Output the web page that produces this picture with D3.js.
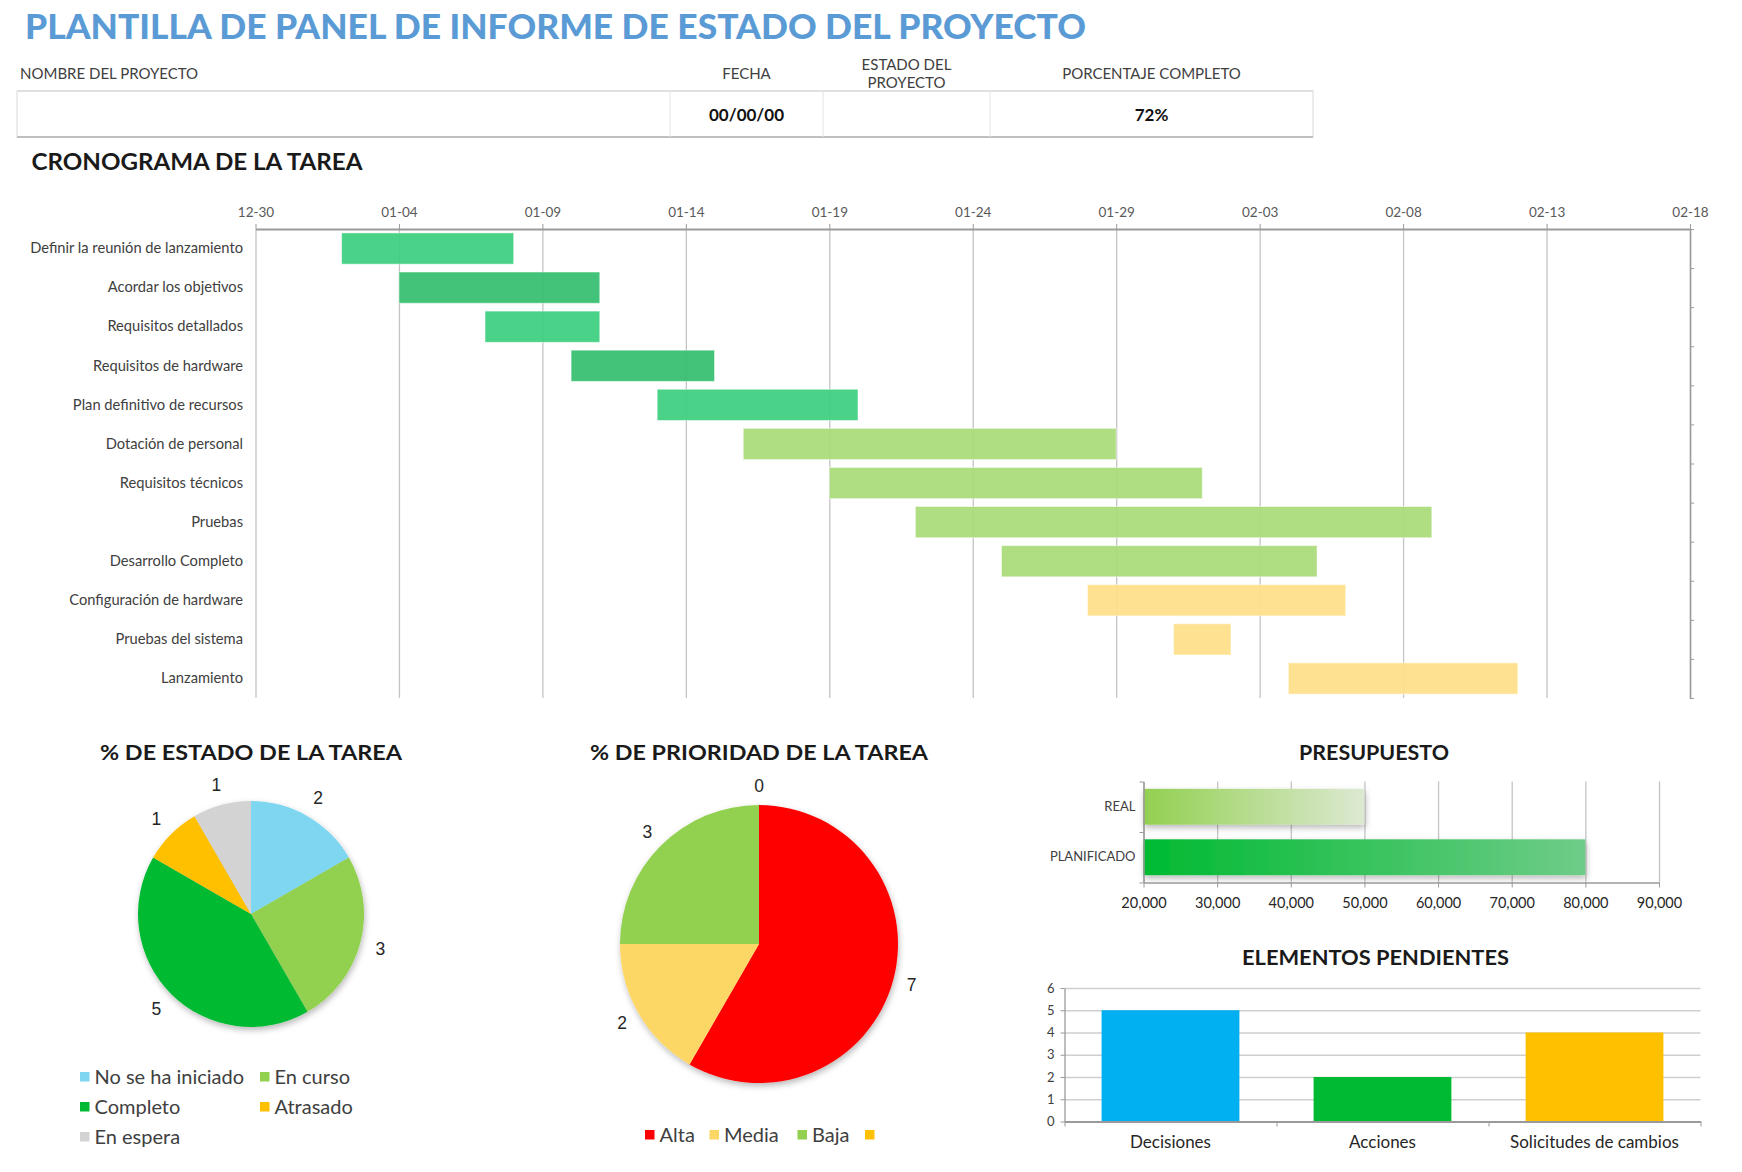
<!DOCTYPE html>
<html><head><meta charset="utf-8">
<script src="https://cdn.jsdelivr.net/npm/d3@7"></script>
<style>
body{margin:0;background:#fff;}
svg{display:block;font-family:Lato,"Open Sans",sans-serif;}
</style></head><body>
<svg id="c" width="1742" height="1172"></svg>
<script>
// ---------- DATA ----------
const tasks = ["Definir la reunión de lanzamiento","Acordar los objetivos","Requisitos detallados","Requisitos de hardware","Plan definitivo de recursos","Dotación de personal","Requisitos técnicos","Pruebas","Desarrollo Completo","Configuración de hardware","Pruebas del sistema","Lanzamiento"];
const taskStart = ["2023-01-02","2023-01-04","2023-01-07","2023-01-10","2023-01-13","2023-01-16","2023-01-19","2023-01-22","2023-01-25","2023-01-28","2023-01-31","2023-02-04"];
const taskEnd   = ["2023-01-08","2023-01-11","2023-01-11","2023-01-15","2023-01-20","2023-01-29","2023-02-01","2023-02-09","2023-02-05","2023-02-06","2023-02-02","2023-02-12"];
const taskPhase = ["Completo","Completo","Completo","Completo","Completo","En curso","En curso","En curso","En curso","Pendiente","Pendiente","Pendiente"];
const dateTicks = ["2022-12-30","2023-01-04","2023-01-09","2023-01-14","2023-01-19","2023-01-24","2023-01-29","2023-02-03","2023-02-08","2023-02-13","2023-02-18"];

const headerLabels = ["NOMBRE DEL PROYECTO","FECHA","ESTADO DEL PROYECTO","PORCENTAJE COMPLETO"];
const headerValues = ["","00/00/00","","72%"];

const statusLabels = ["No se ha iniciado","En curso","Completo","Atrasado","En espera"];
const statusValues = [2,3,5,1,1];

const priorityLabels = ["Alta","Media","Baja",""];
const priorityValues = [7,2,3,0];

const budgetCategories = ["REAL","PLANIFICADO"];
const budgetValues = [50000,80000];
const budgetTicks = [20000,30000,40000,50000,60000,70000,80000,90000];

const pendingCategories = ["Decisiones","Acciones","Solicitudes de cambios"];
const pendingValues = [5,2,4];
const pendingTicks = [0,1,2,3,4,5,6];

// ---------- SETUP ----------
const svg = d3.select("#c");
const defs = svg.append("defs");
const sh = defs.append("filter").attr("id","shadow").attr("x","-20%").attr("y","-20%").attr("width","140%").attr("height","150%");
sh.append("feDropShadow").attr("dx",1).attr("dy",3).attr("stdDeviation",3).attr("flood-color","#000").attr("flood-opacity",0.28);
const TXT = "#404040";

// ---------- MAIN TITLE ----------
svg.append("text").attr("x",25).attr("y",38.5)
  .attr("font-size",35).attr("font-weight",900).attr("fill","#5b9bd5")
  .attr("textLength",1061).attr("lengthAdjust","spacingAndGlyphs")
  .text("PLANTILLA DE PANEL DE INFORME DE ESTADO DEL PROYECTO");

// ---------- HEADER TABLE ----------
const colEdges = [17,670,823,990,1313];
const hdr = svg.append("g");
headerLabels.forEach((h,i)=>{
  const parts = i===2 ? ["ESTADO DEL","PROYECTO"] : [h];
  const cx = i===0 ? 20 : (colEdges[i]+colEdges[i+1])/2;
  parts.forEach((p,j)=>{
    hdr.append("text").attr("x",cx)
      .attr("y", parts.length>1 ? 70+j*18 : 79)
      .attr("text-anchor", i===0 ? "start":"middle")
      .attr("font-size",15).attr("fill",TXT).text(p);
  });
});
hdr.append("rect").attr("x",17).attr("y",91).attr("width",1296).attr("height",46)
  .attr("fill","#fff").attr("stroke","#d9d9d9").attr("stroke-width",1);
hdr.append("line").attr("x1",17).attr("x2",1313).attr("y1",91).attr("y2",91).attr("stroke","#e0e0e0").attr("stroke-width",2);
hdr.append("line").attr("x1",17).attr("x2",1313).attr("y1",137).attr("y2",137).attr("stroke","#bfbfbf").attr("stroke-width",2);
colEdges.slice(1,4).forEach(x=>hdr.append("line").attr("x1",x).attr("x2",x).attr("y1",91).attr("y2",137).attr("stroke","#e3e3e3"));
headerValues.forEach((v,i)=>{
  if(!v) return;
  hdr.append("text").attr("x",(colEdges[i]+colEdges[i+1])/2).attr("y",120.5)
    .attr("text-anchor","middle").attr("font-size",17).attr("font-weight",700).attr("fill","#111").text(v);
});

// ---------- GANTT ----------
svg.append("text").attr("x",31.5).attr("y",170).attr("font-size",23.5).attr("font-weight",700)
  .attr("fill","#1a1a1a").attr("textLength",331).attr("lengthAdjust","spacingAndGlyphs").text("CRONOGRAMA DE LA TAREA");

const parse = d3.utcParse("%Y-%m-%d");
const fmt = d3.utcFormat("%m-%d");
const tickDates = dateTicks.map(parse);
const gx = d3.scaleUtc().domain([tickDates[0], tickDates[tickDates.length-1]]).range([255.5,1690]);
const gTop = 229, gBot = 698;
const gy = d3.scaleBand().domain(tasks).range([gTop,gBot]).paddingInner(0.2).paddingOuter(0.1);
const gyLin = d3.scaleLinear().domain([0,tasks.length]).range([gTop,gBot]);

const gantt = svg.append("g");
// grid
gantt.append("g").attr("transform",`translate(0,${gTop})`)
  .call(d3.axisBottom(gx).tickValues(tickDates).tickSize(gBot-gTop).tickFormat(""))
  .call(g=>g.select(".domain").remove())
  .call(g=>g.selectAll("line").attr("stroke","#c4c4c4").attr("stroke-width",1.3));
// bars
const phaseColor = {"Completo":["#3ccf7f","#35be70"],"En curso":["#a9db78","#a9db78"],"Pendiente":["#ffe089","#ffe089"]};
gantt.selectAll("rect.bar").data(tasks).join("rect").attr("class","bar")
  .attr("x",(d,i)=>gx(parse(taskStart[i])))
  .attr("width",(d,i)=>gx(parse(taskEnd[i]))-gx(parse(taskStart[i])))
  .attr("y",d=>gy(d)).attr("height",gy.bandwidth())
  .attr("fill",(d,i)=>phaseColor[taskPhase[i]][i%2])
  .attr("fill-opacity",0.93)
  .attr("stroke","#ffffff").attr("stroke-opacity",0.5).attr("stroke-width",1);
// top axis
gantt.append("g").attr("transform",`translate(0,${gTop})`)
  .call(d3.axisTop(gx).tickValues(tickDates).tickFormat(fmt).tickSize(5).tickSizeOuter(0).tickPadding(7))
  .call(g=>g.select(".domain").attr("stroke","#9a9a9a").attr("stroke-width",2.2))
  .call(g=>g.selectAll("line").attr("stroke","#9a9a9a"))
  .call(g=>g.selectAll("text").attr("font-size",13.5).attr("fill","#595959").attr("font-family","Lato"));
// right axis ticks
gantt.append("g").attr("transform",`translate(1690,0)`)
  .call(d3.axisRight(gyLin).tickValues(d3.range(0,tasks.length+1)).tickSize(4).tickSizeOuter(0).tickFormat(""))
  .call(g=>g.select(".domain").attr("stroke","#9a9a9a").attr("stroke-width",1.5))
  .call(g=>g.selectAll("line").attr("stroke","#9a9a9a"));
// labels
gantt.append("g").attr("transform",`translate(255,0)`)
  .call(d3.axisLeft(gy).tickSize(0).tickPadding(12))
  .call(g=>g.select(".domain").remove())
  .call(g=>g.selectAll("text").attr("font-size",14.7).attr("fill",TXT).attr("font-family","Lato"));

// ---------- PIE helper ----------
function drawPie(cfg){
  const g = svg.append("g");
  g.append("text").attr("x",cfg.cx).attr("y",760).attr("text-anchor","middle")
    .attr("font-size",21).attr("font-weight",700).attr("fill","#1a1a1a")
    .attr("textLength",cfg.titleLen).attr("lengthAdjust","spacingAndGlyphs").text(cfg.title);
  const pie = d3.pie().sort(null).value(d=>d);
  const arcs = pie(cfg.values);
  const arc = d3.arc().innerRadius(0).outerRadius(cfg.r);
  const lab = d3.arc().innerRadius(cfg.lr).outerRadius(cfg.lr);
  const pg = g.append("g").attr("transform",`translate(${cfg.cx},${cfg.cy})`);
  pg.append("g").attr("filter","url(#shadow)").selectAll("path").data(arcs).join("path")
    .attr("d",arc).attr("fill",(d,i)=>cfg.colors[i]);
  pg.selectAll("text").data(arcs).join("text")
    .attr("transform",d=>`translate(${lab.centroid(d)})`)
    .attr("text-anchor","middle").attr("dy","0.35em")
    .attr("font-family","Liberation Sans, Arial").attr("font-size",17.5).attr("fill","#262626")
    .text(d=>d.data);
  cfg.legend.forEach((L,i)=>{
    g.append("rect").attr("x",L.x).attr("y",L.y-5).attr("width",9.5).attr("height",9.5).attr("fill",cfg.colors[i]);
    if(cfg.labels[i]) g.append("text").attr("x",L.x+14.5).attr("y",L.y).attr("dy","0.35em")
      .attr("font-size",20).attr("fill",TXT).text(cfg.labels[i]);
  });
}
drawPie({title:"% DE ESTADO DE LA TAREA",titleLen:302,cx:251,cy:914,r:113,lr:134,
  values:statusValues,labels:statusLabels,
  colors:["#7fd6f0","#92d050","#00ba33","#ffc000","#d3d3d3"],
  legend:[{x:80,y:1077},{x:260,y:1077},{x:80,y:1107},{x:260,y:1107},{x:80,y:1137}]});
drawPie({title:"% DE PRIORIDAD DE LA TAREA",titleLen:338,cx:759,cy:944,r:139,lr:158,
  values:priorityValues,labels:priorityLabels,
  colors:["#ff0000","#fdd766","#92d050","#ffc000"],
  legend:[{x:645,y:1135},{x:709.5,y:1135},{x:797.5,y:1135},{x:865,y:1135}]});

// ---------- BUDGET ----------
const bud = svg.append("g");
bud.append("text").attr("x",1374).attr("y",760).attr("text-anchor","middle")
  .attr("font-size",21).attr("font-weight",700).attr("fill","#1a1a1a")
  .attr("textLength",150).attr("lengthAdjust","spacingAndGlyphs").text("PRESUPUESTO");
const bx = d3.scaleLinear().domain([budgetTicks[0],budgetTicks[budgetTicks.length-1]]).range([1143.5,1659]);
const bTop = 781.5, bBot = 882.5;
const by = d3.scaleBand().domain(budgetCategories).range([bTop,bBot]).paddingInner(0.29).paddingOuter(0.145);
const byLin = d3.scaleLinear().domain([0,budgetCategories.length]).range([bTop,bBot]);
bud.append("g").attr("transform",`translate(0,${bTop})`)
  .call(d3.axisBottom(bx).tickValues(budgetTicks).tickSize(bBot-bTop).tickFormat(""))
  .call(g=>g.select(".domain").remove())
  .call(g=>g.selectAll("line").attr("stroke","#c4c4c4").attr("stroke-width",1.3));
const gradCols = [["#92d050","#dde9d2"],["#00ba32","#6fcc88"]];
budgetCategories.forEach((c,i)=>{
  const lg = defs.append("linearGradient").attr("id","bg"+i).attr("x1","0").attr("x2","1").attr("y1","0").attr("y2","0");
  lg.append("stop").attr("offset","0").attr("stop-color",gradCols[i][0]);
  lg.append("stop").attr("offset","1").attr("stop-color",gradCols[i][1]);
});
bud.append("g").attr("filter","url(#shadow)").selectAll("rect").data(budgetCategories).join("rect")
  .attr("x",bx(budgetTicks[0])).attr("y",d=>by(d))
  .attr("width",(d,i)=>bx(budgetValues[i])-bx(budgetTicks[0]))
  .attr("height",by.bandwidth()).attr("fill",(d,i)=>`url(#bg${i})`);
bud.append("g").attr("transform",`translate(0,${bBot})`)
  .call(d3.axisBottom(bx).tickValues(budgetTicks).tickSize(5).tickSizeOuter(0).tickPadding(10).tickFormat(d3.format(",")))
  .call(g=>g.select(".domain").attr("stroke","#9a9a9a").attr("stroke-width",1.5))
  .call(g=>g.selectAll("line").attr("stroke","#9a9a9a"))
  .call(g=>g.selectAll("text").attr("font-size",14.5).attr("fill","#262626").attr("font-family","Lato"));
bud.append("g").attr("transform",`translate(${bx(budgetTicks[0])},0)`)
  .call(d3.axisLeft(byLin).tickValues(d3.range(0,budgetCategories.length+1)).tickSize(4).tickSizeOuter(0).tickFormat(""))
  .call(g=>g.select(".domain").attr("stroke","#9a9a9a").attr("stroke-width",1.5))
  .call(g=>g.selectAll("line").attr("stroke","#9a9a9a"));
bud.append("g").attr("transform",`translate(${bx(budgetTicks[0])},0)`)
  .call(d3.axisLeft(by).tickSize(0).tickPadding(8))
  .call(g=>g.select(".domain").remove())
  .call(g=>g.selectAll("text").attr("font-size",13).attr("fill",TXT).attr("font-family","Lato"));

// ---------- PENDING ----------
const pen = svg.append("g");
pen.append("text").attr("x",1375.5).attr("y",965).attr("text-anchor","middle")
  .attr("font-size",21).attr("font-weight",700).attr("fill","#1a1a1a")
  .attr("textLength",267).attr("lengthAdjust","spacingAndGlyphs").text("ELEMENTOS PENDIENTES");
const px = d3.scaleBand().domain(pendingCategories).range([1064.5,1700.5]).paddingInner(0.35).paddingOuter(0.175);
const pxLin = d3.scaleLinear().domain([0,pendingCategories.length]).range([1064.5,1700.5]);
const py = d3.scaleLinear().domain([0,6]).range([1121.5,988]);
pen.append("g").attr("transform",`translate(1064.5,0)`)
  .call(d3.axisRight(py).tickValues(pendingTicks).tickSize(636).tickFormat(""))
  .call(g=>g.select(".domain").remove())
  .call(g=>g.selectAll("line").attr("stroke","#cfcfcf").attr("stroke-width",1.5));
const penCols = ["#00b0f0","#00ba33","#ffc000"];
pen.selectAll("rect.pb").data(pendingCategories).join("rect").attr("class","pb")
  .attr("x",d=>px(d)).attr("width",px.bandwidth())
  .attr("y",(d,i)=>py(pendingValues[i])).attr("height",(d,i)=>py(0)-py(pendingValues[i]))
  .attr("fill",(d,i)=>penCols[i]);
pen.append("g").attr("transform",`translate(1064.5,0)`)
  .call(d3.axisLeft(py).tickValues(pendingTicks).tickSize(4).tickSizeOuter(0).tickPadding(6).tickFormat(d3.format("d")))
  .call(g=>g.select(".domain").attr("stroke","#9a9a9a").attr("stroke-width",1.3))
  .call(g=>g.selectAll("line").attr("stroke","#9a9a9a"))
  .call(g=>g.selectAll("text").attr("font-size",13).attr("fill","#404040").attr("font-family","Lato"));
pen.append("g").attr("transform",`translate(0,1121.5)`)
  .call(d3.axisBottom(pxLin).tickValues(d3.range(0,pendingCategories.length+1)).tickSize(5).tickSizeOuter(0).tickFormat(""))
  .call(g=>g.select(".domain").attr("stroke","#9a9a9a").attr("stroke-width",1.8))
  .call(g=>g.selectAll("line").attr("stroke","#9a9a9a"));
pen.append("g").attr("transform",`translate(0,1121.5)`)
  .call(d3.axisBottom(px).tickSize(0).tickPadding(14))
  .call(g=>g.select(".domain").remove())
  .call(g=>g.selectAll("text").attr("font-size",17).attr("fill","#262626").attr("font-family","Lato"));
</script>
</body></html>
